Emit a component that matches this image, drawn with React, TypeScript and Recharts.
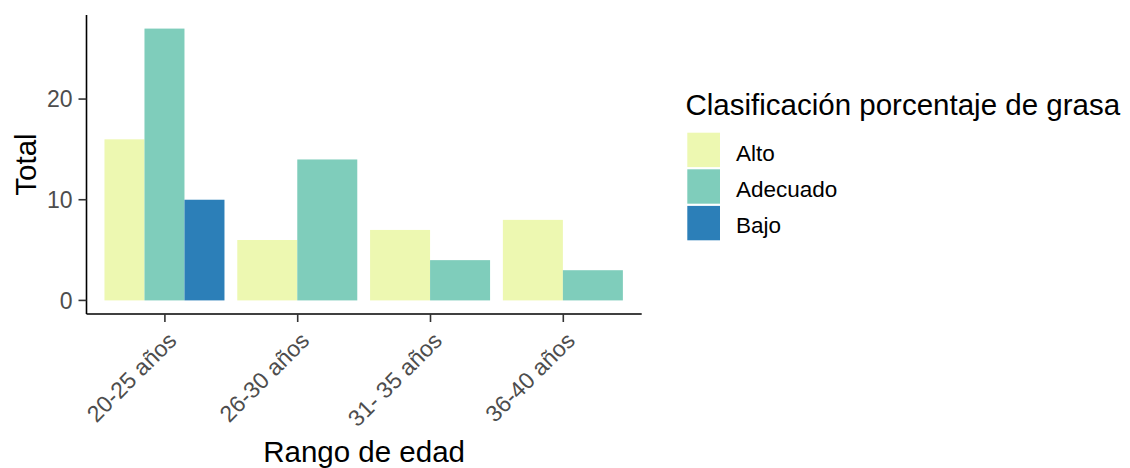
import React from 'react';
import { BarChart, Bar, XAxis, YAxis, Label } from 'recharts';

const categories = ['20-25 años', '26-30 años', '31- 35 años', '36-40 años'];
const alto: (number | null)[] = [16, 6, 7, 8];
const adecuado: (number | null)[] = [27, 14, 4, 3];
const bajo: (number | null)[] = [10, null, null, null];
const seriesNames = ['Alto', 'Adecuado', 'Bajo'];
const seriesColors = ['#EDF8B1', '#7FCDBB', '#2C7FB8'];
const yTicks = [0, 10, 20];
const yDomain = [-1.35, 28.35];
const legendTitle = 'Clasificación porcentaje de grasa';
const xTitle = 'Rango de edad';
const yTitle = 'Total';

const FONT = '"Liberation Sans", Arial, Helvetica, sans-serif';

const data = categories.map((c, i) => ({
  cat: c,
  Alto: alto[i],
  Adecuado: adecuado[i],
  Bajo: bajo[i],
}));

// ggplot-like dodge: bars present in a category share the full group width
const makeShape = (seriesIdx: number) => (props: any) => {
  const { x, y, width, height, payload, fill } = props;
  const key = seriesNames[seriesIdx];
  if (!payload || payload[key] == null) return <g />;
  const present = seriesNames.filter((k) => payload[k] != null);
  const n = present.length;
  const rank = present.indexOf(key);
  const bandStart = x - seriesIdx * width;
  const w = (seriesNames.length * width) / n;
  return <rect x={bandStart + rank * w} y={y} width={w} height={height} fill={fill} />;
};

const XTick = (props: any) => {
  const { x, y, payload } = props;
  const ax = x + 13;
  const ay = y + 18;
  return (
    <text
      x={ax}
      y={ay}
      transform={`rotate(-45 ${ax} ${ay})`}
      textAnchor="end"
      fill="#4D4D4D"
      fontSize={23}
      fontFamily={FONT}
    >
      {payload.value}
    </text>
  );
};

const XTitle = (props: any) => {
  const vb = props.viewBox || {};
  const cx = (vb.x ?? 0) + (vb.width ?? 0) / 2;
  return (
    <text x={cx} y={462} textAnchor="middle" fill="#000" fontSize={29.5} fontFamily={FONT}>
      {xTitle}
    </text>
  );
};

const YTitle = (props: any) => {
  const vb = props.viewBox || {};
  const cy = (vb.y ?? 0) + (vb.height ?? 0) / 2;
  return (
    <text
      x={36}
      y={cy}
      transform={`rotate(-90 36 ${cy})`}
      textAnchor="middle"
      fill="#000"
      fontSize={29.5}
      fontFamily={FONT}
    >
      {yTitle}
    </text>
  );
};

const LegendBox = () => (
  <svg
    width={450}
    height={180}
    style={{ position: 'absolute', left: 680, top: 80 }}
  >
    <text x={5.5} y={34.5} fontSize={29.5} fill="#000" fontFamily={FONT}>
      {legendTitle}
    </text>
    {seriesNames.map((name, i) => (
      <g key={name}>
        <rect x={7.3} y={52.7 + i * 36.6} width={32.7} height={34.4} fill={seriesColors[i]} />
        <text x={56} y={81 + i * 35.9} fontSize={22.5} fill="#000" fontFamily={FONT}>
          {name}
        </text>
      </g>
    ))}
  </svg>
);

export default function App() {
  return (
    <div style={{ position: 'absolute', left: 0, top: 0, width: 1130, height: 468, fontFamily: FONT }}>
      <BarChart
        width={1130}
        height={468}
        data={data}
        margin={{ top: 15, right: 488.3, bottom: 0, left: 0 }}
        barCategoryGap="4.5%"
        barGap={0}
      >
        <XAxis
          dataKey="cat"
          height={154}
          padding={{ left: 12, right: 12 }}
          tickSize={8}
          tickMargin={2}
          interval={0}
          tick={<XTick />}
          axisLine={{ stroke: '#000', strokeWidth: 1.6 }}
          tickLine={{ stroke: '#333', strokeWidth: 1.6 }}
        >
          <Label content={XTitle} />
        </XAxis>
        <YAxis
          type="number"
          width={86.5}
          domain={yDomain}
          ticks={yTicks}
          allowDataOverflow
          tickSize={8}
          tickMargin={6}
          tick={{ fill: '#4D4D4D', fontSize: 23, fontFamily: FONT }}
          axisLine={{ stroke: '#000', strokeWidth: 1.6 }}
          tickLine={{ stroke: '#333', strokeWidth: 1.6 }}
        >
          <Label content={YTitle} />
        </YAxis>
        {seriesNames.map((name, i) => (
          <Bar
            key={name}
            dataKey={name}
            fill={seriesColors[i]}
            isAnimationActive={false}
            shape={makeShape(i)}
          />
        ))}
      </BarChart>
      <LegendBox />
    </div>
  );
}
